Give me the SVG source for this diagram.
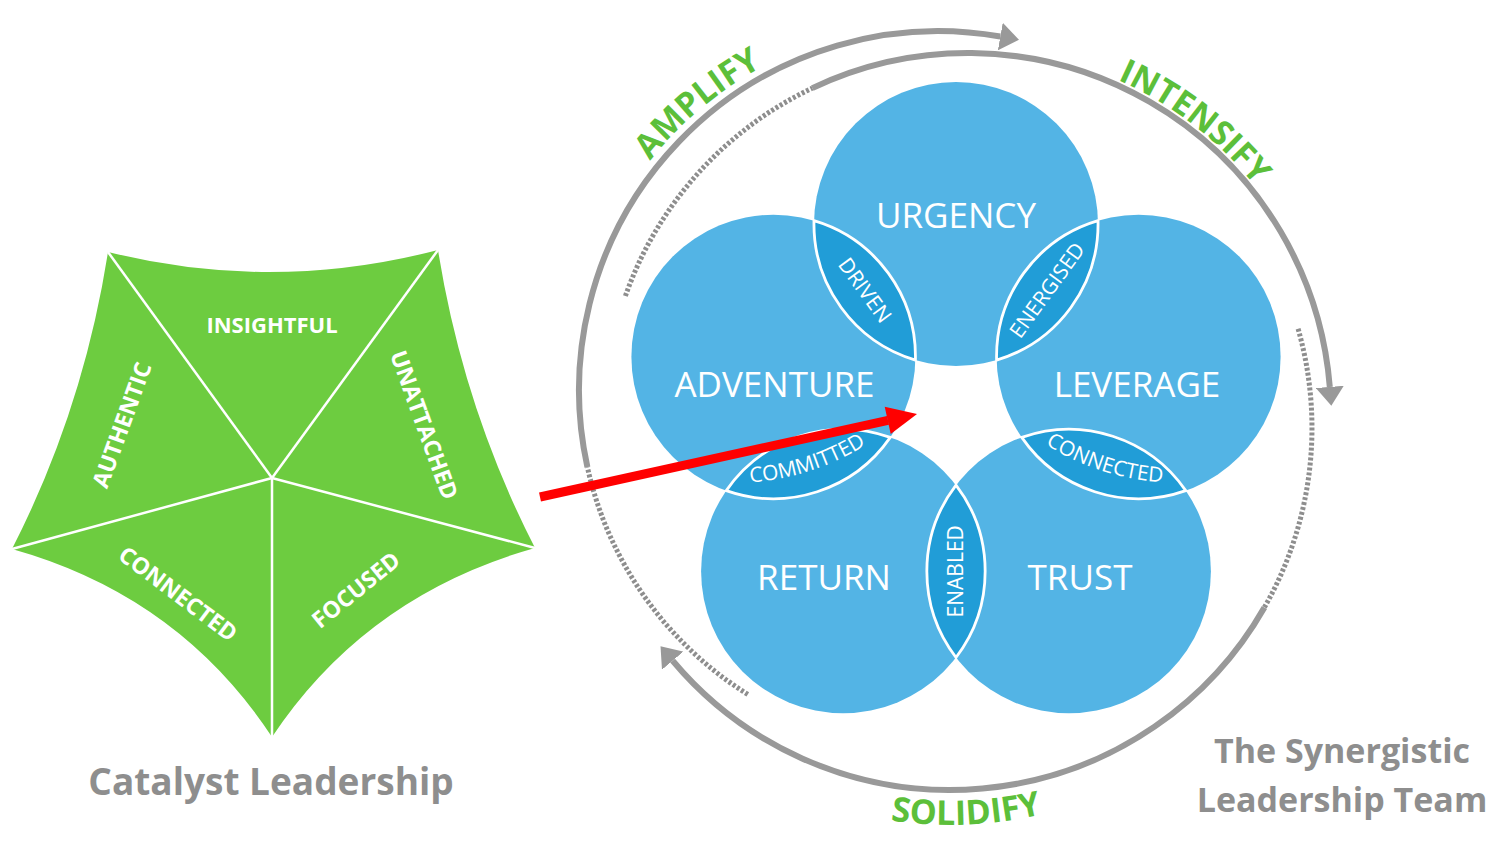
<svg xmlns="http://www.w3.org/2000/svg" width="1500" height="851" viewBox="0 0 1500 851">
<style>
.circ{fill:#53B4E5}
.lens{fill:#219DD7;stroke:#ffffff;stroke-width:2.8}
.ct{font-family:"Open Sans","Liberation Sans",sans-serif;font-size:35px;fill:#ffffff;text-anchor:middle}
.lt{font-family:"Open Sans","Liberation Sans",sans-serif;font-size:21px;fill:#ffffff;text-anchor:middle}
.arc{fill:none;stroke:#999999;stroke-width:6}
.dash{fill:none;stroke:#8E8E8E;stroke-width:5;stroke-dasharray:3 2}
.gl{font-family:"Open Sans","Liberation Sans",sans-serif;font-size:34px;font-weight:700;fill:#5CBF3A;text-anchor:middle}
.pt{font-family:"Open Sans","Liberation Sans",sans-serif;font-size:23px;font-weight:700;fill:#ffffff;text-anchor:middle}
.cap{font-family:"Open Sans","Liberation Sans",sans-serif;font-weight:700;fill:#8E8E8E;text-anchor:middle}
.pl{stroke:#ffffff;stroke-width:2.5;fill:none}
</style>
<defs>
<marker id="ah" markerUnits="userSpaceOnUse" viewBox="0 0 20 28" markerWidth="20" markerHeight="28" refX="0" refY="14" orient="auto">
<path d="M0,0 L19,14 L0,28 z" fill="#999999"/>
</marker>
<path id="pAmp" d="M 592.2 264.1 A 368 368 0 0 1 874.1 27.6"/>
<path id="pInt" d="M 1016.7 51.2 A 368 368 0 0 1 1308.2 275.8"/>
<path id="pSol" d="M 766.1 779.8 A 397 397 0 0 0 1162.7 763.2"/>
<path id="pCom" d="M 733.2 482.9 A 250 250 0 0 0 880.1 435.2"/>
<path id="pCon" d="M 1031.9 435.2 A 250 250 0 0 0 1178.85 482.9"/>
</defs>

<g id="catalyst-leadership">
<path d="M108,252 Q273,293 438,250 Q463.1,407.7 535,548 Q366.1,595.6 272,737 Q179.1,595.8 12,549 Q83.5,409.1 108,252 Z" fill="#6DCC40"/>
<g class="pl">
<line x1="272" y1="478" x2="108" y2="252"/>
<line x1="272" y1="478" x2="438" y2="250"/>
<line x1="272" y1="478" x2="535" y2="548"/>
<line x1="272" y1="478" x2="272" y2="737"/>
<line x1="272" y1="478" x2="12" y2="549"/>
</g>
<text class="pt" x="272" y="333" style="font-size:22px">INSIGHTFUL</text>
<text class="pt" transform="translate(122,425) rotate(-70)" x="0" y="8">AUTHENTIC</text>
<text class="pt" transform="translate(424,425) rotate(70)" x="0" y="8">UNATTACHED</text>
<text class="pt" transform="translate(178,594) rotate(37)" x="0" y="8">CONNECTED</text>
<text class="pt" transform="translate(356,590) rotate(-39)" x="0" y="8">FOCUSED</text>
<text class="cap" x="271" y="795" font-size="37">Catalyst Leadership</text>
</g>

<g id="cycle-arrows">
<path class="dash" d="M 747.8 694.4 A 359 359 0 0 1 587.4 467.1"/>
<path class="arc" d="M 587.4 467.1 A 359 359 0 0 1 1000.3 36.5" marker-end="url(#ah)"/>
<path class="dash" d="M 625.4 296 A 363 363 0 0 1 812.3 88.1"/>
<path class="arc" d="M 812.3 88.1 A 363 363 0 0 1 1329.8 386.9" marker-end="url(#ah)"/>
<path class="dash" d="M 1298.1 328.8 A 362 362 0 0 1 1264.4 607.4"/>
<path class="arc" d="M 1264.4 607.4 A 362 362 0 0 1 672.7 660.7" marker-end="url(#ah)"/>
<text class="gl"><textPath href="#pAmp" startOffset="50%">AMPLIFY</textPath></text>
<text class="gl"><textPath href="#pInt" startOffset="50%">INTENSIFY</textPath></text>
<text class="gl"><textPath href="#pSol" startOffset="50%">SOLIDIFY</textPath></text>
</g>

<g id="urgency"><circle class="circ" cx="956" cy="224" r="142"/></g>
<g id="leverage"><circle class="circ" cx="1138.6" cy="356.7" r="142"/></g>
<g id="trust"><circle class="circ" cx="1068.9" cy="571.3" r="142"/></g>
<g id="return"><circle class="circ" cx="843.1" cy="571.3" r="142"/></g>
<g id="adventure"><circle class="circ" cx="773.4" cy="356.7" r="142"/></g>

<g id="driven"><path class="lens" d="M814,220.6 A142 142 0 0 1 915.4,360.1 A142 142 0 0 1 814,220.6 Z"/>
<text class="lt" transform="translate(864.7,290.4) rotate(54)" x="0" y="7">DRIVEN</text></g>
<g id="energised"><path class="lens" d="M1098,220.6 A142 142 0 0 1 996.6,360.1 A142 142 0 0 1 1098,220.6 Z"/>
<text class="lt" transform="translate(1047.3,290.4) rotate(-54)" x="0" y="7">ENERGISED</text></g>
<g id="connected"><path class="lens" d="M1021.75,437.4 A142 142 0 0 1 1185.75,490.6 A142 142 0 0 1 1021.75,437.4 Z"/>
<text class="lt"><textPath href="#pCon" startOffset="50%">CONNECTED</textPath></text></g>
<g id="enabled"><path class="lens" d="M956,485.1 A142 142 0 0 1 956,657.5 A142 142 0 0 1 956,485.1 Z"/>
<text class="lt" transform="translate(956,571.3) rotate(-90)" x="0" y="7">ENABLED</text></g>
<g id="committed"><path class="lens" d="M726.25,490.6 A142 142 0 0 1 890.25,437.4 A142 142 0 0 1 726.25,490.6 Z"/>
<text class="lt"><textPath href="#pCom" startOffset="50%">COMMITTED</textPath></text></g>

<g id="labels">
<text class="ct" x="956" y="228">URGENCY</text>
<text class="ct" x="774.5" y="397">ADVENTURE</text>
<text class="ct" x="1137" y="397">LEVERAGE</text>
<text class="ct" x="824" y="590">RETURN</text>
<text class="ct" x="1080" y="590">TRUST</text>
</g>

<g id="synergistic-caption">
<text class="cap" x="1342" y="763" font-size="34">The Synergistic</text>
<text class="cap" x="1342" y="812" font-size="34">Leadership Team</text>
</g>

<g id="connector-red">
<line x1="540" y1="497" x2="888" y2="420.4" stroke="#FF0000" stroke-width="9"/>
<polygon points="917,414 890.7,434.1 884.7,406.7" fill="#FF0000"/>
</g>
</svg>
